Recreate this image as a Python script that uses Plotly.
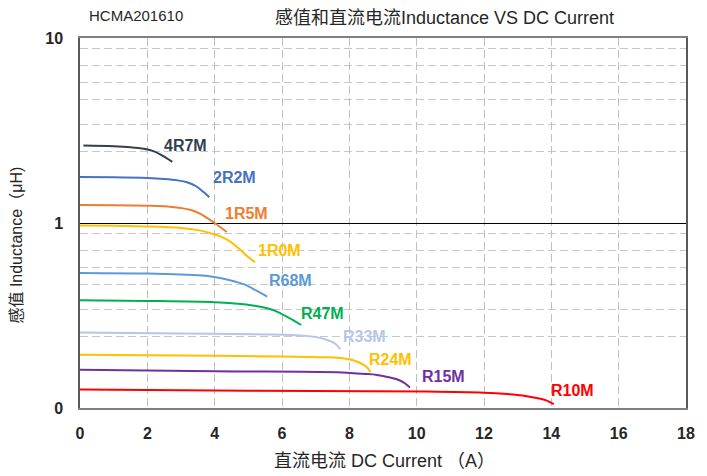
import numpy as np
import plotly.graph_objects as go

# ---- data ----
names = ["4R7M", "2R2M", "1R5M", "1R0M", "R68M", "R47M", "R33M", "R24M", "R15M", "R10M"]
colors = ["#333F4F", "#4472C4", "#ED7D31", "#FFC000", "#5B9BD5", "#00B050",
          "#B4C7E7", "#FFC000", "#7030A0", "#FF0000"]

x_4R7M = [0.1, 1.0, 1.5, 1.9, 2.2, 2.45, 2.74]
y_4R7M = [2.62, 2.60, 2.57, 2.52, 2.44, 2.31, 2.14]

x_2R2M = [0.0, 1.0, 2.0, 2.5, 2.9, 3.2, 3.45, 3.68, 3.84]
y_2R2M = [1.77, 1.765, 1.75, 1.73, 1.70, 1.655, 1.58, 1.465, 1.377]

x_1R5M = [0.0, 1.0, 2.0, 2.6, 3.0, 3.3, 3.58, 3.82, 4.04, 4.36]
y_1R5M = [1.25, 1.248, 1.24, 1.228, 1.205, 1.175, 1.12, 1.051, 0.988, 0.894]

x_1R0M = [0.0, 1.0, 2.0, 3.0, 3.5, 3.9, 4.2, 4.45, 4.71, 4.95, 5.2]
y_1R0M = [0.97, 0.965, 0.958, 0.94, 0.915, 0.878, 0.842, 0.796, 0.73, 0.666, 0.613]

x_R68M = [0.0, 2.0, 3.0, 3.73, 4.2, 4.6, 4.9, 5.24, 5.56]
y_R68M = [0.537, 0.533, 0.527, 0.519, 0.503, 0.483, 0.464, 0.431, 0.40]

x_R47M = [0.0, 2.0, 4.0, 4.6, 5.19, 5.5, 5.78, 6.18, 6.57]
y_R47M = [0.382, 0.379, 0.373, 0.367, 0.357, 0.348, 0.336, 0.309, 0.281]

x_R33M = [0.0, 3.0, 5.69, 6.3, 6.67, 7.0, 7.25, 7.45, 7.6, 7.73]
y_R33M = [0.256, 0.253, 0.250, 0.248, 0.246, 0.242, 0.236, 0.229, 0.221, 0.208]

x_R24M = [0.0, 3.0, 5.98, 7.2, 7.65, 7.95, 8.2, 8.43, 8.55, 8.63]
y_R24M = [0.194, 0.192, 0.190, 0.188, 0.187, 0.184, 0.179, 0.171, 0.164, 0.156]

x_R15M = [0.0, 4.0, 7.65, 8.4, 8.82, 9.15, 9.41, 9.62, 9.8]
y_R15M = [0.161, 0.158, 0.156, 0.153, 0.151, 0.147, 0.143, 0.137, 0.129]

x_R10M = [0.0, 5.0, 10.3, 12.0, 12.7, 13.14, 13.6, 13.85, 14.07]
y_R10M = [0.126, 0.124, 0.1227, 0.121, 0.119, 0.117, 0.113, 0.110, 0.105]

series_x = [x_4R7M, x_2R2M, x_1R5M, x_1R0M, x_R68M, x_R47M, x_R33M, x_R24M, x_R15M, x_R10M]
series_y = [y_4R7M, y_2R2M, y_1R5M, y_1R0M, y_R68M, y_R47M, y_R33M, y_R24M, y_R15M, y_R10M]

label_x = [3.12, 4.6, 4.94, 5.92, 6.24, 7.2, 8.44, 9.22, 10.8, 14.63]
label_y = [2.61, 1.77, 1.13, 0.708, 0.488, 0.325, 0.243, 0.184, 0.148, 0.124]

y_tickvals = [0.1, 1, 10]
y_ticktext = ["0", "1", "10"]
y_minor_vals = [0.244, 0.34, 0.465, 0.575, 0.71, 0.873, 2.44, 3.4, 4.65, 5.75, 7.1, 8.73]
x_tickvals = list(range(0, 19, 2))

title_left = "HCMA201610"
title_main = "感值和直流电流Inductance VS DC Current"
x_title = "直流电流 DC Current （A）"
y_title = "感值 Inductance（μH)"

FONT = "Liberation Sans, Noto Sans CJK SC, Arial, sans-serif"
TXT = "#262626"

fig = go.Figure()
for nm, c, xs, ys in zip(names, colors, series_x, series_y):
    fig.add_trace(go.Scatter(x=xs, y=ys, mode="lines", name=nm,
                             line=dict(color=c, width=2, shape="spline", smoothing=1.0),
                             showlegend=False, hoverinfo="skip"))

for nm, c, lx, ly in zip(names, colors, label_x, label_y):
    fig.add_annotation(x=lx, y=np.log10(ly), xref="x", yref="y", text=f"<b>{nm}</b>",
                       showarrow=False, font=dict(family=FONT, size=16, color=c))

fig.add_annotation(x=0.011, y=1.062, xref="paper", yref="paper", xanchor="left", yanchor="middle",
                   text=title_left, showarrow=False, font=dict(family=FONT, size=15, color=TXT))
fig.add_annotation(x=0.601, y=1.054, xref="paper", yref="paper", xanchor="center", yanchor="middle",
                   text=title_main, showarrow=False, font=dict(family=FONT, size=18, color=TXT))
fig.add_annotation(x=0.502, y=-0.143, xref="paper", yref="paper", xanchor="center", yanchor="middle",
                   text=x_title, showarrow=False, font=dict(family=FONT, size=18, color=TXT))
fig.add_annotation(x=-0.105, y=0.44, xref="paper", yref="paper", xanchor="center", yanchor="middle",
                   text=y_title, textangle=-90, showarrow=False, font=dict(family=FONT, size=16, color=TXT))

fig.update_xaxes(range=[0, 18], tickvals=x_tickvals, showgrid=True, gridcolor="#BFBFBF",
                 griddash="8px,4px", gridwidth=1, zeroline=False,
                 showline=True, linecolor="#7F7F7F", linewidth=2, mirror=True,
                 ticks="", ticklabelstandoff=10,
                 tickfont=dict(family=FONT, size=16, color=TXT, weight="bold"))
fig.update_yaxes(type="log", range=[-1, 1], tickvals=y_tickvals, ticktext=y_ticktext,
                 showgrid=True, gridcolor="#000000", gridwidth=1, zeroline=False,
                 showline=True, linecolor="#595959", linewidth=1.5, mirror=True,
                 ticks="", ticklabelstandoff=12,
                 tickfont=dict(family=FONT, size=16, color=TXT, weight="bold"),
                 minor=dict(tickmode="array", tickvals=y_minor_vals, showgrid=True,
                            gridcolor="#C8C8C8", griddash="8px,4px", gridwidth=1, ticks=""))

fig.update_layout(width=707, height=476, margin=dict(l=80, r=15, t=38, b=68),
                  plot_bgcolor="white", paper_bgcolor="white")

fig.write_html("out.html", config={"displayModeBar": False},
               post_script="document.body.style.margin='0';document.body.style.overflow='hidden';")
